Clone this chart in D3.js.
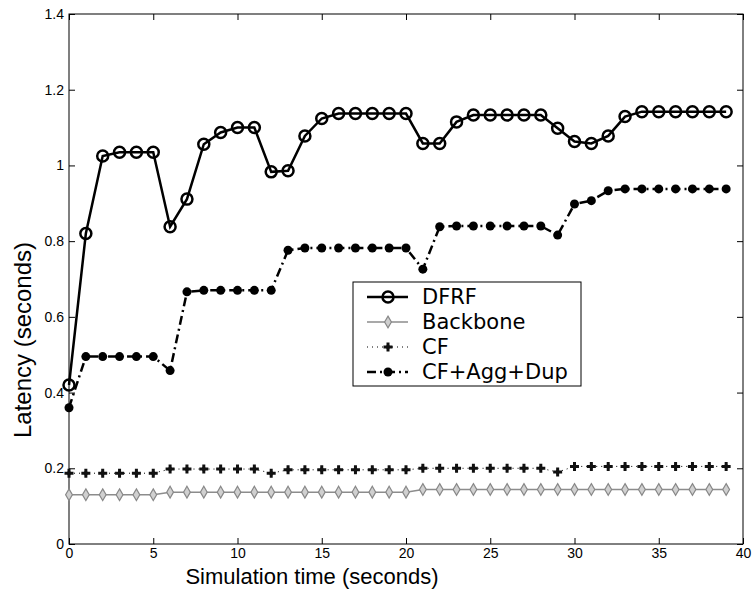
<!DOCTYPE html>
<html>
<head>
<meta charset="utf-8">
<script src="https://cdn.jsdelivr.net/npm/d3@7"></script>
<style>
  body { margin: 0; background: #fff; }
  svg { font-family: "Liberation Sans", Arial, sans-serif; }
</style>
</head>
<body>
<div id="chart"></div>
<script>
// simulation time (s)
const times = d3.range(0, 40)

const dfrf = [0.42, 0.82, 1.025, 1.035, 1.035, 1.035, 0.838, 0.911, 1.056, 1.087,
    1.10, 1.10, 0.983, 0.986, 1.078, 1.124, 1.137, 1.137, 1.137, 1.137,
    1.137, 1.058, 1.058, 1.115, 1.133, 1.133, 1.133, 1.133, 1.133, 1.098,
    1.063, 1.058, 1.078, 1.129, 1.142, 1.142, 1.142, 1.142, 1.142, 1.142]

const backbone = [0.13, 0.13, 0.13, 0.13, 0.13, 0.13, 0.137, 0.137, 0.137, 0.137,
    0.137, 0.137, 0.137, 0.137, 0.137, 0.137, 0.137, 0.137, 0.137, 0.137,
    0.137, 0.144, 0.144, 0.144, 0.144, 0.144, 0.144, 0.144, 0.144, 0.144,
    0.144, 0.144, 0.144, 0.144, 0.144, 0.144, 0.144, 0.144, 0.144, 0.144]

const cf = [0.187, 0.187, 0.187, 0.187, 0.187, 0.187, 0.198, 0.198, 0.198, 0.198,
    0.198, 0.198, 0.187, 0.196, 0.196, 0.196, 0.196, 0.196, 0.196, 0.196,
    0.196, 0.2, 0.2, 0.2, 0.2, 0.2, 0.2, 0.2, 0.2, 0.19,
    0.205, 0.205, 0.205, 0.205, 0.205, 0.205, 0.205, 0.205, 0.205, 0.205]

const cfAggDup = [0.36, 0.495, 0.495, 0.495, 0.495, 0.495, 0.458, 0.666, 0.67, 0.67,
    0.67, 0.67, 0.67, 0.776, 0.782, 0.782, 0.782, 0.782, 0.782, 0.782,
    0.782, 0.726, 0.838, 0.84, 0.84, 0.84, 0.84, 0.84, 0.84, 0.816,
    0.898, 0.907, 0.933, 0.938, 0.938, 0.938, 0.938, 0.938, 0.938, 0.938]

const seriesNames = ['DFRF', 'Backbone', 'CF', 'CF+Agg+Dup']
const xTicks = [0, 5, 10, 15, 20, 25, 30, 35, 40]
const yTicks = [0, 0.2, 0.4, 0.6, 0.8, 1, 1.2, 1.4]

const width = 753, height = 590
const margin = { top: 14, right: 10, bottom: 46, left: 69 }
const w = width - margin.left - margin.right,
    h = height - margin.top - margin.bottom

const svg = d3.select('#chart').append('svg')
    .attr('width', width)
    .attr('height', height)

const plot = svg.append('g')
    .attr('transform', `translate(${margin.left},${margin.top})`)

const x = d3.scaleLinear().domain([0, 40]).range([0, w])
const y = d3.scaleLinear().domain([0, 1.4]).range([h, 0])

// axes with inward ticks (box style)
function styleAxis(g) {
    g.select('.domain').remove()
    g.selectAll('.tick line').attr('stroke', '#000')
    g.selectAll('.tick text').attr('fill', '#000').style('font-size', '14px')
}
plot.append('g').attr('transform', `translate(0,${h})`)
    .call(d3.axisBottom(x).tickValues(xTicks).tickFormat(d3.format('d')).tickSizeInner(-6).tickPadding(4))
    .call(styleAxis)
plot.append('g').call(d3.axisTop(x).tickValues(xTicks).tickSizeInner(-6).tickFormat(''))
    .call(styleAxis)
plot.append('g')
    .call(d3.axisLeft(y).tickValues(yTicks).tickFormat(d3.format('~g')).tickSizeInner(-6).tickPadding(5))
    .call(styleAxis)
plot.append('g').attr('transform', `translate(${w},0)`)
    .call(d3.axisRight(y).tickValues(yTicks).tickSizeInner(-6).tickFormat(''))
    .call(styleAxis)
plot.append('rect')
    .attr('width', w).attr('height', h)
    .attr('fill', 'none').attr('stroke', '#000').attr('stroke-width', 1)

// axis titles
svg.append('text')
    .attr('x', 312).attr('y', 584)
    .attr('text-anchor', 'middle')
    .style('font-size', '22px')
    .text('Simulation time (seconds)')
svg.append('text')
    .attr('transform', 'translate(31,340) rotate(-90)')
    .attr('text-anchor', 'middle')
    .style('font-size', '24px')
    .text('Latency (seconds)')

const line = d3.line().x((d, i) => x(times[i])).y(d => y(d))

const styles = {
    'Backbone': { stroke: '#8c8c8c', width: 1.5, dash: null },
    'CF': { stroke: '#000', width: 1, dash: '1,4' },
    'CF+Agg+Dup': { stroke: '#000', width: 2.5, dash: '9,4,2,4' },
    'DFRF': { stroke: '#000', width: 2.5, dash: null }
}

function drawMarker(g, name, cx, cy) {
    if (name == 'DFRF') {
        // open circle, line shows through like the original
        g.append('circle').attr('cx', cx).attr('cy', cy).attr('r', 5.5)
            .attr('fill', 'none').attr('stroke', '#000').attr('stroke-width', 2.5)
    } else if (name == 'CF+Agg+Dup') {
        g.append('circle').attr('cx', cx).attr('cy', cy).attr('r', 4.5).attr('fill', '#000')
    } else if (name == 'CF') {
        g.append('path').attr('transform', `translate(${cx},${cy})`)
            .attr('d', d3.symbol(d3.symbolCross, 45)()).attr('fill', '#111')
        g.append('path').attr('transform', `translate(${cx},${cy})`)
            .attr('d', d3.symbol(d3.symbolDiamond, 18)()).attr('fill', '#111')
    } else {
        g.append('path').attr('transform', `translate(${cx},${cy})`)
            .attr('d', d3.symbol(d3.symbolDiamond, 40)())
            .attr('fill', '#d0d0d0').attr('stroke', '#888').attr('stroke-width', 1.2)
    }
}

const seriesData = { 'DFRF': dfrf, 'Backbone': backbone, 'CF': cf, 'CF+Agg+Dup': cfAggDup }
const drawOrder = ['Backbone', 'CF', 'CF+Agg+Dup', 'DFRF']

drawOrder.forEach(function (name) {
    const s = styles[name]
    const g = plot.append('g')
    g.append('path')
        .datum(seriesData[name])
        .attr('d', line)
        .attr('fill', 'none')
        .attr('stroke', s.stroke)
        .attr('stroke-width', s.width)
        .attr('stroke-dasharray', s.dash)
    seriesData[name].forEach(function (v, i) {
        drawMarker(g, name, x(times[i]), y(v))
    })
})

// legend
const legend = svg.append('g').attr('transform', 'translate(353,282)')
legend.append('rect')
    .attr('width', 228).attr('height', 104)
    .attr('fill', '#fff').attr('stroke', '#000').attr('stroke-width', 1)
seriesNames.forEach(function (name, i) {
    const s = styles[name]
    const ly = 15 + i * 25
    legend.append('line')
        .attr('x1', 14).attr('x2', 55).attr('y1', ly).attr('y2', ly)
        .attr('stroke', s.stroke)
        .attr('stroke-width', s.width)
        .attr('stroke-dasharray', s.dash)
    drawMarker(legend, name, 35, ly)
    legend.append('text')
        .attr('x', 69).attr('y', ly + 7)
        .style('font-family', '"DejaVu Sans", sans-serif')
        .style('font-size', '21px')
        .text(name)
})
</script>
</body>
</html>
